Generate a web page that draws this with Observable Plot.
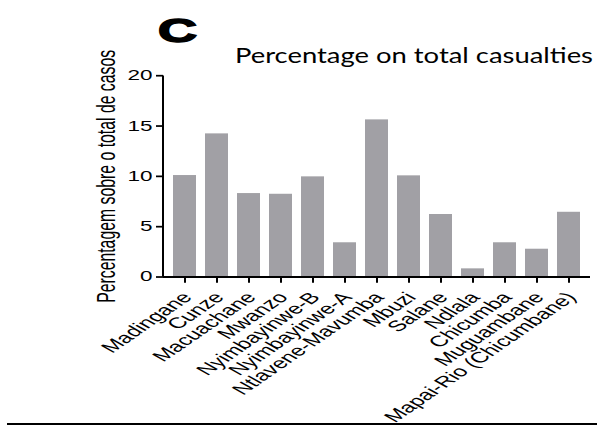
<!DOCTYPE html>
<html>
<head>
<meta charset="utf-8">
<script src="https://cdn.jsdelivr.net/npm/d3@7"></script>
<script src="https://cdn.jsdelivr.net/npm/@observablehq/plot@0.6"></script>
<style>
  html, body { margin: 0; padding: 0; background: #fff; }
  #fig { position: relative; width: 597px; height: 426px; overflow: hidden; }
  #fig > svg { position: absolute; left: 0; top: 0; }
  #overlay { pointer-events: none; }
  #rule { position: absolute; left: 7px; top: 423px; width: 590px; height: 2px; background: #000; }
</style>
</head>
<body>
<div id="fig"><div id="rule"></div></div>
<script>
// Localities (x categories) and their share of all recorded cases (%)
const sites = [
  "Madingane", "Cunze", "Macuachane", "Mwanzo", "Nyimbayinwe-B", "Nyimbayinwe-A",
  "Ntlavene-Mavumba", "Mbuzi", "Salane", "Ndlala", "Chicumba", "Muguambane",
  "Mapai-Rio (Chicumbane)"
];
const shares = [10.1, 14.24, 8.31, 8.24, 9.97, 3.42, 15.63, 10.07, 6.23, 0.83, 3.42, 2.78, 6.45];
const yTicks = [0, 5, 10, 15, 20];
const yLabel = "Percentagem sobre o total de casos";
const title = "Percentage on total casualties";
const panel = "C";

const W = 597, Hout = 426;
const squash = 0.62;            // the figure is drawn tall, then compressed vertically
const H = Hout / squash;
const rows = sites.map((site, i) => ({site, share: shares[i]}));
const font = "'Liberation Sans', Arial, sans-serif";

const chart = Plot.plot({
  width: W,
  height: H,
  marginLeft: 163,
  marginRight: 7,
  marginTop: 75.4 / squash,
  marginBottom: H - 276.7 / squash,
  style: {fontFamily: font, fontSize: "22.5px", color: "#000", background: "transparent", overflow: "visible"},
  x: {domain: sites, paddingInner: 0.29, paddingOuter: 0.145, label: null},
  y: {domain: [0, 20], ticks: yTicks, label: null},
  marks: [
    Plot.barY(rows, {x: "site", y: "share", fill: "#a1a0a5"}),
    Plot.axisY({ticks: yTicks, tickSize: 7, tickPadding: 4, strokeWidth: 2.8, fontSize: 22.5, label: null}),
    // x ticks only; the slanted category names are drawn by the text mark below
    Plot.axisX({tickSize: 9.7, strokeWidth: 2, tickFormat: () => "", label: null}),
    Plot.text(sites, {
      x: d => d, text: d => d, frameAnchor: "bottom",
      rotate: -48, textAnchor: "end", lineAnchor: "middle",
      dx: 2.3, dy: 28.5, fontSize: 24.5
    }),
    Plot.ruleY([0], {strokeWidth: 3}),
    // vertical axis line along the left edge of the frame
    (index, scales, values, dims) =>
      d3.create("svg:line")
        .attr("x1", dims.marginLeft).attr("x2", dims.marginLeft)
        .attr("y1", scales.y(0)).attr("y2", scales.y(20))
        .attr("stroke", "#000").attr("stroke-width", 2)
        .node(),
    Plot.text([yLabel], {text: d => d, frameAnchor: "left", textAnchor: "middle", lineAnchor: "middle", rotate: -90, dx: -57, fontSize: 25.5})
  ]
});

chart.setAttribute("height", Hout);
chart.setAttribute("preserveAspectRatio", "none");
chart.style.height = Hout + "px";
chart.style.width = W + "px";
chart.style.maxWidth = "none";
const fig = document.getElementById("fig");
fig.insertBefore(chart, fig.firstChild);

// panel letter and title
const overlay = d3.select(fig).append("svg")
  .attr("id", "overlay").attr("width", W).attr("height", Hout);
overlay.append("g").attr("transform", `scale(1,${squash})`)
  .append("text")
  .attr("x", 158).attr("y", 42 / squash)
  .attr("font-family", font)
  .attr("font-weight", "bold").attr("font-size", 54)
  .attr("stroke", "#000").attr("stroke-width", 2.5)
  .text(panel);
overlay.append("text")
  .attr("x", 235).attr("y", 63)
  .attr("font-family", "Lato, 'Open Sans', sans-serif")
  .attr("font-weight", 400)
  .attr("font-size", 21.6)
  .attr("textLength", 358).attr("lengthAdjust", "spacingAndGlyphs")
  .text(title);
</script>
</body>
</html>
